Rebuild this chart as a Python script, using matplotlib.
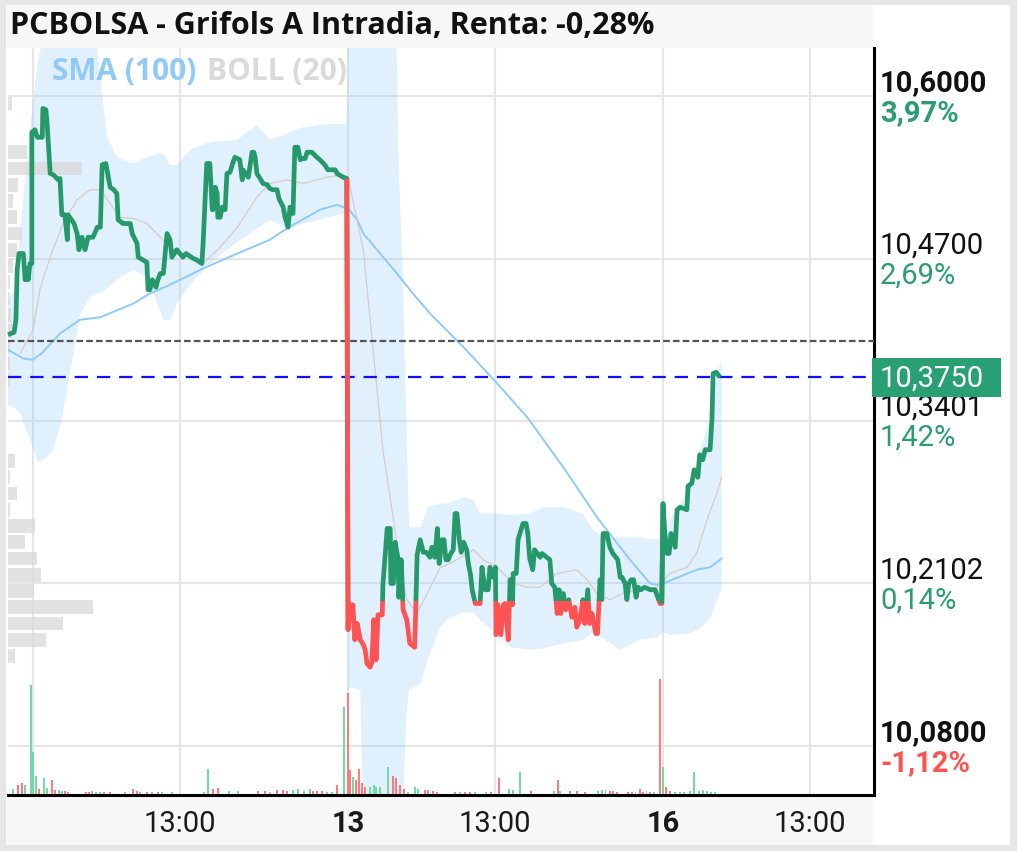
"""
PCBOLSA intraday chart for Grifols A (price line, SMA, Bollinger, volume).
"""
import numpy as np
import matplotlib
matplotlib.use("Agg")
import matplotlib.pyplot as plt
import matplotlib.transforms as mtransforms
from matplotlib.patches import Rectangle

plt.rcParams["font.family"] = ["Roboto", "DejaVu Sans"]

TITLE = "PCBOLSA - Grifols A Intradia, Renta: -0,28%"

# x axis = trading minutes from 9:00 of day 12 (one session = 515 min, 9:00-17:35)
grid_t = [0, 240, 515, 755, 1030, 1270]
grid_labels = ["", "13:00", "13", "13:00", "16", "13:00"]

# price levels on the right axis
levels = [10.60, 10.47, 10.3401, 10.2102, 10.08]
level_labels = ["10,6000", "10,4700", "10,3401", "10,2102", "10,0800"]
pct_labels = ["3,97%", "2,69%", "1,42%", "0,14%", "-1,12%"]
level_bold = [True, False, False, False, True]

PREV_CLOSE = 10.404
LAST = 10.375
REF_PRICE = 10.196   # 0% reference, line turns red below it

# price, day 12
d12_t = [-41, -31, -28, -26, -23, -16, -13, -10, -8, -5, -2, -2, 3, 7, 15, 16, 21, 23, 28, 33,
         41, 44, 47, 52, 56, 57, 67, 72, 75, 80, 85, 90, 98, 105, 110, 113, 119, 123, 126, 132,
         137, 139, 147, 159, 162, 170, 172, 186, 188, 191, 195, 201, 204, 208, 213, 219, 224, 227, 235, 245,
         250, 262, 267, 276, 278, 284, 289, 293, 294, 298, 301, 302, 306, 309, 314, 317, 322, 327, 330, 338,
         342, 343, 352, 358, 361, 363, 366, 370, 376, 383, 387, 392, 399, 402, 409, 412, 417, 420, 425, 428,
         433, 437, 440, 445, 448, 456, 464, 469, 477, 482, 494, 497, 507, 513]
d12_p = [10.409, 10.411, 10.421, 10.461, 10.474, 10.474, 10.453, 10.462, 10.453, 10.466, 10.466, 10.571, 10.573, 10.567, 10.567, 10.590, 10.589, 10.578, 10.538, 10.537,
         10.533, 10.534, 10.505, 10.505, 10.485, 10.505, 10.498, 10.490, 10.477, 10.487, 10.477, 10.487, 10.487, 10.495, 10.495, 10.545, 10.546, 10.535, 10.527, 10.525,
         10.522, 10.501, 10.498, 10.498, 10.490, 10.482, 10.471, 10.467, 10.445, 10.445, 10.453, 10.447, 10.453, 10.458, 10.458, 10.490, 10.485, 10.471, 10.477, 10.471,
         10.474, 10.470, 10.469, 10.466, 10.482, 10.546, 10.546, 10.509, 10.509, 10.527, 10.522, 10.503, 10.503, 10.511, 10.509, 10.538, 10.539, 10.547, 10.551, 10.549,
         10.533, 10.541, 10.535, 10.555, 10.555, 10.551, 10.538, 10.535, 10.530, 10.529, 10.526, 10.525, 10.525, 10.518, 10.511, 10.503, 10.495, 10.511, 10.506, 10.559,
         10.559, 10.549, 10.550, 10.550, 10.555, 10.555, 10.551, 10.549, 10.545, 10.541, 10.541, 10.538, 10.535, 10.534]

# price, day 13
d13_t = [515, 517, 520, 523, 526, 530, 535, 540, 543, 546, 551, 554, 557, 561, 564, 571, 572, 579, 584, 585,
         589, 592, 597, 598, 602, 605, 611, 616, 624, 628, 633, 638, 643, 649, 652, 657, 661, 664, 669, 672,
         675, 679, 682, 687, 690, 693, 697, 700, 704, 709, 712, 715, 718, 723, 731, 734, 739, 744, 747, 752,
         756, 757, 760, 765, 769, 772, 777, 780, 784, 785, 790, 793, 801, 806, 809, 812, 817, 820, 829, 832,
         845, 848, 853, 857, 860, 863, 867, 871, 876, 881, 886, 889, 894, 899, 902, 907, 910, 914, 920, 923,
         927, 930, 932, 938, 943, 948, 956, 960, 963, 968, 971, 974, 978, 982, 986, 989, 994, 1000, 1009, 1017,
         1020, 1025, 1028]
d13_p = [10.173, 10.194, 10.181, 10.193, 10.165, 10.178, 10.165, 10.161, 10.157, 10.146, 10.143, 10.147, 10.181, 10.149, 10.185, 10.185, 10.209, 10.254, 10.254, 10.210,
         10.210, 10.243, 10.229, 10.199, 10.229, 10.189, 10.181, 10.162, 10.159, 10.233, 10.245, 10.235, 10.235, 10.231, 10.239, 10.231, 10.254, 10.226, 10.245, 10.245,
         10.229, 10.229, 10.233, 10.237, 10.266, 10.266, 10.245, 10.235, 10.243, 10.237, 10.225, 10.218, 10.205, 10.194, 10.194, 10.223, 10.205, 10.205, 10.223, 10.215,
         10.223, 10.169, 10.193, 10.169, 10.193, 10.194, 10.165, 10.213, 10.193, 10.218, 10.218, 10.245, 10.258, 10.258, 10.250, 10.230, 10.221, 10.237, 10.231, 10.234,
         10.229, 10.210, 10.207, 10.186, 10.205, 10.186, 10.202, 10.189, 10.197, 10.183, 10.191, 10.175, 10.181, 10.197, 10.178, 10.205, 10.178, 10.186, 10.170, 10.170,
         10.213, 10.197, 10.250, 10.250, 10.239, 10.234, 10.229, 10.215, 10.215, 10.210, 10.197, 10.210, 10.213, 10.213, 10.199, 10.207, 10.205, 10.207, 10.205, 10.205,
         10.201, 10.194, 10.194]

# price, day 16
d16_t = [1030, 1033, 1037, 1040, 1043, 1050, 1053, 1058, 1069, 1071, 1077, 1081, 1087, 1090, 1095, 1099, 1107, 1110, 1112, 1117, 1123]
d16_p = [10.274, 10.250, 10.234, 10.234, 10.250, 10.239, 10.269, 10.271, 10.269, 10.288, 10.290, 10.301, 10.295, 10.313, 10.309, 10.317, 10.317, 10.341, 10.378, 10.379, 10.375]

# SMA (100)
sma_t = [-41, -16, 0, 16, 44, 77, 110, 164, 191, 224, 278, 334, 387, 415, 469, 497, 513,
         515, 530, 540, 595, 621, 649, 704, 759, 808, 867, 922, 976, 1009, 1020,
         1030, 1085, 1107, 1126]
sma_p = [10.397, 10.390, 10.389, 10.395, 10.410, 10.421, 10.423, 10.434, 10.442, 10.449, 10.462, 10.474, 10.485, 10.494, 10.509, 10.513, 10.510,
         10.510, 10.501, 10.490, 10.458, 10.442, 10.426, 10.399, 10.370, 10.343, 10.303, 10.263, 10.229, 10.210, 10.209,
         10.210, 10.221, 10.223, 10.230]

# BOLL (20) middle line
mid_t = [-21, 0, 11, 28, 49, 72, 93, 110, 126, 142, 164, 186, 208, 224, 278, 306, 334, 366, 387, 415, 441, 481, 507, 513,
         515, 540, 556, 572, 595, 611, 628, 666, 682, 720, 736, 759, 785, 808, 829, 857, 889, 906, 922, 943, 964, 992, 1020,
         1041, 1069, 1085, 1102, 1118, 1126]
mid_p = [10.394, 10.413, 10.445, 10.471, 10.498, 10.517, 10.525, 10.525, 10.514, 10.503, 10.502, 10.498, 10.487, 10.479, 10.466, 10.479, 10.495, 10.519, 10.530, 10.533, 10.530, 10.535, 10.537, 10.535,
         10.535, 10.477, 10.397, 10.317, 10.242, 10.197, 10.186, 10.223, 10.226, 10.237, 10.229, 10.223, 10.210, 10.207, 10.207, 10.218, 10.221, 10.213, 10.202, 10.197, 10.202, 10.205, 10.207,
         10.218, 10.223, 10.234, 10.261, 10.282, 10.295]

# BOLL (20) upper / lower band
band_t = [-41, -29, -21, -5, 8, 20, 33, 47, 60, 77, 93, 105, 110, 121, 137, 164, 186, 203, 213, 224,
          235, 257, 281, 306, 334, 366, 387, 415, 441, 469, 513,
          515, 535, 540, 592, 597, 605, 610, 615, 634, 645, 666, 677, 704, 720, 731, 759, 780, 812, 834,
          867, 899, 915, 935, 960, 992, 1020,
          1030, 1041, 1074, 1090, 1107, 1118, 1126]
band_up = [10.437, 10.445, 10.493, 10.573, 10.629, 10.653, 10.661, 10.661, 10.661, 10.661, 10.653, 10.638, 10.613, 10.567, 10.551, 10.546, 10.551, 10.554, 10.554, 10.545,
           10.545, 10.557, 10.562, 10.564, 10.565, 10.577, 10.565, 10.570, 10.575, 10.577, 10.578,
           10.720, 10.720, 10.720, 10.720, 10.557, 10.450, 10.343, 10.255, 10.255, 10.271, 10.274, 10.274, 10.279, 10.277, 10.266, 10.266, 10.265, 10.266, 10.271,
           10.271, 10.266, 10.253, 10.247, 10.247, 10.247, 10.245,
           10.247, 10.261, 10.287, 10.317, 10.341, 10.378, 10.389]
band_lo = [10.353, 10.350, 10.346, 10.325, 10.307, 10.310, 10.317, 10.341, 10.378, 10.426, 10.439, 10.442, 10.442, 10.446, 10.453, 10.461, 10.455, 10.434, 10.421, 10.421,
           10.434, 10.449, 10.462, 10.473, 10.483, 10.494, 10.501, 10.494, 10.498, 10.501, 10.507,
           10.127, 10.125, 10.010, 10.010, 10.010, 10.037, 10.101, 10.125, 10.130, 10.149, 10.175, 10.181, 10.187, 10.187, 10.181, 10.169, 10.159, 10.157, 10.158,
           10.162, 10.165, 10.171, 10.165, 10.157, 10.165, 10.167,
           10.171, 10.169, 10.170, 10.174, 10.182, 10.197, 10.205]

# volume (thousands of shares), up = 1 green / 0 red
vol_t = [-33, -25, -18, -13, -3, 0, 5, 10, 18, 23, 31, 36, 43, 47, 52, 57, 87, 92, 96, 103,
         110, 116, 126, 150, 164, 170, 175, 186, 195, 204, 211, 227, 280, 286, 294, 302, 320, 335, 368, 379,
         387, 399, 409, 415, 425, 433, 443, 453, 458, 464, 473, 481, 489, 497, 508,
         515, 518, 523, 528, 533, 538, 543, 551, 557, 561, 567, 580, 589, 593, 600, 607, 613, 624, 629, 641,
         646, 654, 661, 690, 698, 706, 715, 723, 741, 749, 762, 778, 785, 796, 814, 852, 858, 862, 878, 890,
         902, 923, 930, 936, 943, 949, 954, 972, 979, 985, 992, 998, 1003, 1009, 1015, 1025,
         1030, 1035, 1041, 1050, 1058, 1064, 1074, 1081, 1089, 1095, 1102, 1108, 1115]
vol_v = [6, 10, 12, 10, 110, 43, 19, 6, 17, 7, 15, 5, 5, 4, 4, 3, 3, 3, 4, 3,
         3, 3, 3, 3, 6, 4, 3, 3, 3, 3, 3, 3, 3, 26, 6, 7, 4, 4, 4, 4,
         3, 5, 5, 4, 5, 6, 4, 6, 4, 4, 4, 3, 3, 10, 88,
         102, 25, 18, 15, 26, 12, 8, 8, 10, 8, 8, 28, 19, 17, 10, 6, 3, 8, 6, 5,
         5, 4, 3, 3, 3, 3, 3, 3, 3, 3, 17, 6, 5, 23, 4, 4, 15, 4, 4, 4,
         3, 4, 5, 5, 4, 4, 3, 3, 3, 3, 6, 3, 4, 3, 3, 116,
         28, 8, 4, 3, 3, 3, 4, 23, 4, 5, 4, 3, 3]
vol_up = [1, 0, 0, 1, 1, 1, 1, 0, 1, 1, 0, 0, 1, 1, 0, 0, 0, 0, 1, 1,
          1, 0, 0, 1, 0, 0, 1, 0, 1, 0, 1, 1, 1, 1, 0, 0, 1, 1, 0, 0,
          1, 0, 0, 0, 1, 1, 1, 1, 0, 0, 0, 1, 1, 0, 1,
          0, 0, 1, 0, 0, 0, 0, 1, 1, 1, 1, 1, 0, 0, 0, 0, 1, 1, 1, 0,
          0, 0, 0, 0, 1, 0, 0, 1, 1, 0, 0, 1, 1, 1, 0, 1, 0, 1, 0, 0,
          0, 1, 1, 1, 0, 0, 0, 0, 0, 1, 0, 0, 1, 0, 1, 0,
          1, 0, 0, 1, 1, 1, 1, 1, 1, 1, 1, 1, 1]

# volume profile by price
prof_price = [10.594, 10.555, 10.542, 10.529, 10.516, 10.503, 10.490, 10.477, 10.464, 10.451,
              10.438, 10.425, 10.412, 10.399, 10.386, 10.373, 10.308, 10.295, 10.282, 10.269,
              10.256, 10.243, 10.230, 10.217, 10.204, 10.191, 10.178, 10.165, 10.152]
prof_vol = [4, 19, 74, 10, 5, 9, 14, 9, 5, 2,
            2, 3, 4, 2, 2, 2, 7, 2, 9, 2,
            27, 17, 29, 33, 26, 85, 55, 38, 7]

W, H = 1017, 851
GREEN = "#26996b"
TXT_GREEN = "#2a9d72"
RED = "#ff5252"
LINE_W = 3.4


def px_rect(x0, y0, x1, y1):
    return [x0 / W, 1 - y1 / H, (x1 - x0) / W, (y1 - y0) / H]


def blank(a, color):
    a.set_facecolor(color)
    a.set_xticks([])
    a.set_yticks([])
    for s in a.spines.values():
        s.set_visible(False)


fig = plt.figure(figsize=(W / 100, H / 100), dpi=100, facecolor="#e6e6e6")
blank(fig.add_axes(px_rect(6, 5, 1010, 845)), "white")
tax = fig.add_axes(px_rect(7, 5, 873, 48))
blank(tax, "#f7f7f7")
tax.text(0.004, 0.5, TITLE, transform=tax.transAxes, va="center", ha="left",
         fontsize=22, fontweight="bold", family=["Open Sans", "DejaVu Sans"], color="#111111")
blank(fig.add_axes(px_rect(7, 797, 873, 845)), "#f7f7f7")

ax = fig.add_axes(px_rect(8, 48, 874, 795))
ax.set_facecolor("white")
ax.set_axisbelow(True)
plot_w_px = 866
plot_h_px = 747

# grid
for lv in levels:
    ax.axhline(lv, color="#e6e6e6", lw=1.5, zorder=0.5)
ax.set_xticks(grid_t)
ax.set_xticklabels(grid_labels)
ax.grid(axis="x", color="#e6e6e6", lw=1.5)

# bollinger band
ax.fill_between(band_t, band_lo, band_up, color="#90caf9", alpha=0.27, lw=0, zorder=1)

# volume profile on the left edge
yx = mtransforms.blended_transform_factory(ax.transAxes, ax.transData)
ax.barh(prof_price, np.array(prof_vol) / plot_w_px, height=0.011, left=0,
        color="#d9d9d9", alpha=0.75, transform=yx, zorder=2)

# volume bars at the bottom
xy = mtransforms.blended_transform_factory(ax.transData, ax.transAxes)
vol_colors = ["#74d9a6" if u else "#ff7b7b" for u in vol_up]
ax.bar(vol_t, np.array(vol_v) / plot_h_px, width=3.2, bottom=0,
       color=vol_colors, transform=xy, zorder=2)

# indicators
ax.plot(sma_t, sma_p, color="#90caf9", lw=1.4, zorder=3)
ax.plot(mid_t, mid_p, color="#d7ccc8", lw=0.9, zorder=3)
ax.axhline(PREV_CLOSE, color="#555555", lw=1.6, dashes=(3, 1.4), zorder=4)
ax.axhline(LAST, color="#1010ff", lw=1.6, dashes=(6, 4), zorder=4)

# price line, green above the 0% reference and red below
price_t = d12_t + d13_t + d16_t
price_p = d12_p + d13_p + d16_p
up_line, = ax.plot(price_t, price_p, color=GREEN, lw=LINE_W, zorder=6,
                   solid_joinstyle="round", solid_capstyle="butt")
up_line.set_clip_path(Rectangle((-100, REF_PRICE), 2000, 1, transform=ax.transData))
dn_line, = ax.plot(price_t, price_p, color=RED, lw=LINE_W, zorder=6,
                   solid_joinstyle="round", solid_capstyle="butt")
dn_line.set_clip_path(Rectangle((-100, REF_PRICE - 1), 2000, 1, transform=ax.transData))
# opening gaps coloured by direction
for (ta, pa), (tb, pb) in [((d12_t, d12_p), (d13_t, d13_p)), ((d13_t, d13_p), (d16_t, d16_p))]:
    ax.plot([ta[-1], tb[0]], [pa[-1], pb[0]], color=GREEN if pb[0] > pa[-1] else RED,
            lw=LINE_W, zorder=6.5, solid_capstyle="butt")

ax.set_xlim(-41, 1375)
ax.set_ylim(10.0408, 10.6384)

# legend text
ax.text(0.0508, 0.968, "SMA (100)", transform=ax.transAxes, color="#90caf9", va="center",
        fontsize=21.5, fontweight="bold", family=["Open Sans", "DejaVu Sans"])
ax.text(0.2298, 0.968, "BOLL (20)", transform=ax.transAxes, color="#dadada", va="center",
        fontsize=21.5, fontweight="bold", family=["Open Sans", "DejaVu Sans"])

# right axis labels
for lv, lab, pct, bold in zip(levels, level_labels, pct_labels, level_bold):
    w = "bold" if bold else "normal"
    ax.annotate(lab, xy=(1, lv), xycoords=yx, xytext=(6, 5), textcoords="offset pixels",
                ha="left", va="baseline", fontsize=21, fontweight=w, color="#111111",
                annotation_clip=False, zorder=3)
    ax.annotate(pct, xy=(1, lv), xycoords=yx, xytext=(6, -3), textcoords="offset pixels",
                ha="left", va="top", fontsize=21, fontweight=w,
                color=RED if pct.startswith("-") else TXT_GREEN,
                annotation_clip=False, zorder=3)

# current price tag
half = 19.5 * (10.6384 - 10.0408) / plot_h_px
ax.add_patch(Rectangle((1 - 2 / plot_w_px, LAST - half), 129 / plot_w_px, 2 * half,
                       transform=yx, facecolor="#28a073", edgecolor="none",
                       clip_on=False, zorder=7))
ax.annotate("10,3750", xy=(1, LAST), xycoords=yx, xytext=(6, -1), textcoords="offset pixels",
            ha="left", va="center", fontsize=21, color="white",
            annotation_clip=False, zorder=8)

# axes frame
for side in ["left", "top"]:
    ax.spines[side].set_visible(False)
ax.spines["right"].set_linewidth(2.2)
ax.spines["bottom"].set_linewidth(2.2)
ax.tick_params(axis="y", left=False, labelleft=False)
ax.tick_params(axis="x", length=0, pad=11, labelsize=21, labelcolor="#1a1a1a")
for lbl in ax.get_xticklabels():
    if ":" not in lbl.get_text():
        lbl.set_fontweight("bold")

fig.savefig("out.png", dpi=100)
